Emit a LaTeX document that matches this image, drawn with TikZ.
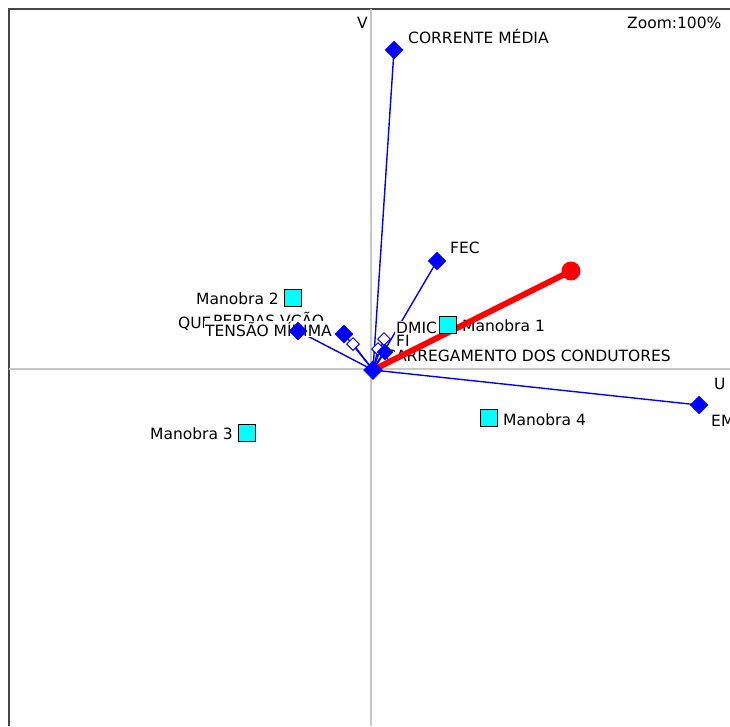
\documentclass[tikz,border=0pt]{standalone}
\usepackage{fontspec}
\setmainfont{DejaVu Sans}
\usetikzlibrary{shapes.geometric}
\definecolor{vecblue}{RGB}{0,0,255}
\definecolor{obscyan}{RGB}{0,255,255}
\definecolor{suppred}{RGB}{255,0,0}
\pgfdeclarelayer{vectors}
\pgfdeclarelayer{labels}
\pgfsetlayers{vectors,labels,main}
\begin{document}
\begin{tikzpicture}[x=1pt,y=-1pt,
  every node/.style={font=\fontsize{15.5}{18}\selectfont},
  fdia/.style={diamond, fill=vecblue, draw=vecblue, minimum size=18pt, inner sep=0pt, line width=0.5pt},
  hdia/.style={diamond, fill=white, draw=vecblue, minimum size=13pt, inner sep=0pt, line width=1pt},
  mano/.style={rectangle, fill=obscyan, draw=black, minimum size=17pt, inner sep=0pt, line width=1.2pt},
  lab/.style={anchor=base west, fill=white, inner sep=1pt, text=black},
  labr/.style={anchor=base east, fill=white, inner sep=1pt, text=black},
  vec/.style={draw=vecblue, line width=1.4pt},
  axisline/.style={draw=black!22, line width=1.3pt},
  frameline/.style={draw=black!72, line width=2.5pt},
  supp/.style={draw=suppred, line width=6pt},
  suppend/.style={circle, fill=suppred, minimum size=19pt, inner sep=0pt}]

\useasboundingbox (0,0) rectangle (730,726);
\clip (0,0) rectangle (730,726);

% frame and axes
\draw[frameline] (9,726) -- (9,9) -- (730,9);
\draw[axisline] (371,9) -- (371,726);
\draw[axisline] (9,369) -- (730,369);

% variable markers
\node[fdia] (cm) at (394,50) {};
\node[fdia] (fec) at (437,261) {};
\node[fdia] (em) at (699,405) {};
\node[fdia] (que) at (298,331) {};
\node[fdia] (ten) at (344,334) {};
\node[hdia] (per) at (353,344) {};
\node[hdia] (dmic) at (384,339) {};
\node[hdia] (fi) at (378,349) {};
\node[fdia, minimum size=16pt] (car) at (385,352) {};

% supplementary variable (red)
\node[suppend] (sup) at (571,271) {};
\draw[supp] (373,370) coordinate (red0) -- (sup.center);

% origin marker
\node[fdia, minimum size=19pt] (o) at (373,370) {};

% observation markers
\node[mano] (m2) at (293,298) {};
\node[mano] (m1) at (448,325) {};
\node[mano] (m4) at (489,418) {};
\node[mano] (m3) at (247,433) {};

% vectors from the origin
\begin{pgfonlayer}{vectors}
  \foreach \t in {cm,fec,em,que,ten,per,dmic,fi,car}
    \draw[vec] (o.center) -- (\t.center);
\end{pgfonlayer}

% labels
\begin{pgfonlayer}{labels}
  \node[lab, fill=none] (lv) at (356,28) {V};
  \node[lab, fill=none] (lz) at (626,28) {Zoom:100\%};
  \node[lab, fill=none] (lu) at (713,389) {U};
  \node[lab] (lcm) at (407,43) {CORRENTE MÉDIA};
  \node[lab] (lfec) at (449,253) {FEC};
  \node[labr] (lm2) at (280,304) {Manobra 2};
  \node[lab] (lque) at (177,328) {QUE};
  \node[lab] (lper) at (212,326) {PERDAS VÇÃO};
  \node[lab] (lten) at (204,336) {TENSÃO MÍNIMA};
  \node[lab] (ldmic) at (395,333) {DMIC};
  \node[lab] (lfi) at (395,346) {FI};
  \node[lab] (lm1) at (461,331) {Manobra 1};
  \node[lab] (lcar) at (384,361) {CARREGAMENTO DOS CONDUTORES};
  \node[lab] (lem) at (710,426) {EM};
  \node[lab] (lm4) at (502,425) {Manobra 4};
  \node[labr] (lm3) at (234,439) {Manobra 3};
\end{pgfonlayer}
\end{tikzpicture}
\end{document}
